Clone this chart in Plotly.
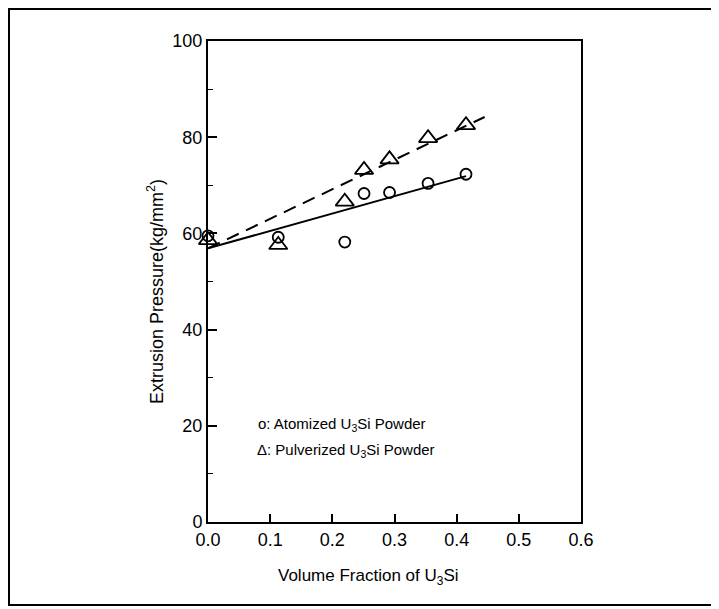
import plotly.graph_objects as go

# Data
vol_frac = [0.0, 0.113, 0.220, 0.251, 0.292, 0.354, 0.415]
atomized = [59.5, 59.2, 58.2, 68.3, 68.5, 70.4, 72.3]
pulverized = [58.6, 57.6, 66.6, 73.2, 75.4, 79.8, 82.5]

atom_fit_x = [0.0, 0.415]
atom_fit_y = [56.9, 71.9]
pulv_fit_x = [0.0, 0.445]
pulv_fit_y = [56.9, 84.2]

x_ticks = [0.0, 0.1, 0.2, 0.3, 0.4, 0.5, 0.6]
x_tick_text = ["0.0", "0.1", "0.2", "0.3", "0.4", "0.5", "0.6"]
y_ticks = [0, 20, 40, 60, 80, 100]

FONT = "Liberation Sans, Arial, sans-serif"

fig = go.Figure()

fig.add_trace(go.Scatter(x=atom_fit_x, y=atom_fit_y, mode="lines",
                         line=dict(color="black", width=2), showlegend=False,
                         cliponaxis=False))
fig.add_trace(go.Scatter(x=pulv_fit_x, y=pulv_fit_y, mode="lines",
                         line=dict(color="black", width=2, dash="13px,8px"),
                         showlegend=False, cliponaxis=False))
fig.add_trace(go.Scatter(x=vol_frac, y=atomized, mode="markers",
                         marker=dict(symbol="circle-open", size=11, color="black",
                                     line=dict(width=1.8, color="black")),
                         showlegend=False, cliponaxis=False))
fig.add_trace(go.Scatter(x=vol_frac, y=pulverized, mode="markers",
                         marker=dict(symbol="triangle-up-open", size=16, color="black",
                                     line=dict(width=1.8, color="black")),
                         showlegend=False, cliponaxis=False))

# page has an 8px body margin; work in page pixels and shift
OFF = 8
W, H = 719 - OFF, 609 - OFF
L, R, T, B = 208 - OFF, 581 - OFF, 41 - OFF, 522 - OFF
pw, ph = R - L, B - T

def fx(page_px):
    return (page_px - OFF - L) / pw

def fy(page_py):
    return (B - (page_py - OFF)) / ph

fig.update_layout(
    width=W, height=H,
    margin=dict(l=L, r=W - R, t=T, b=H - B),
    paper_bgcolor="white", plot_bgcolor="white",
    font=dict(family=FONT, color="black", size=18),
    showlegend=False,
    xaxis=dict(range=[0, 0.6], tickvals=x_ticks, ticktext=x_tick_text,
               showline=True, linecolor="black", linewidth=2, mirror=True,
               ticks="inside", ticklen=8, tickwidth=1.5, tickcolor="black",
               showgrid=False, zeroline=False,
               tickfont=dict(family=FONT, size=18)),
    yaxis=dict(range=[0, 100], tickvals=y_ticks,
               showline=True, linecolor="black", linewidth=2, mirror=True,
               ticks="inside", ticklen=9, tickwidth=1.5, tickcolor="black",
               showgrid=False, zeroline=False,
               tickfont=dict(family=FONT, size=18),
               minor=dict(dtick=10, ticks="inside", ticklen=5, tickwidth=1.2,
                          tickcolor="black", showgrid=False)),
    shapes=[
        dict(type="rect", xref="paper", yref="paper",
             x0=fx(9), x1=fx(712), y0=fy(605), y1=fy(9),
             line=dict(color="black", width=2), fillcolor="rgba(0,0,0,0)",
             layer="below"),
    ],
    annotations=[
        dict(text="Volume Fraction of U<sub>3</sub>Si", xref="paper", yref="paper",
             x=fx(368), y=fy(577), xanchor="center",
             yanchor="middle", showarrow=False, font=dict(size=17)),
        dict(text="Extrusion Pressure(kg/mm<sup>2</sup>)", xref="paper", yref="paper",
             x=fx(155), y=fy(292), xanchor="center",
             yanchor="middle", textangle=-90, showarrow=False, font=dict(size=18)),
        dict(text="o: Atomized U<sub>3</sub>Si Powder", xref="paper", yref="paper",
             x=fx(256), y=fy(424), xanchor="left",
             yanchor="middle", showarrow=False, font=dict(size=15)),
        dict(text="Δ: Pulverized U<sub>3</sub>Si Powder", xref="paper", yref="paper",
             x=fx(255), y=fy(450), xanchor="left",
             yanchor="middle", showarrow=False, font=dict(size=15)),
    ],
)

fig.write_html("out.html")
